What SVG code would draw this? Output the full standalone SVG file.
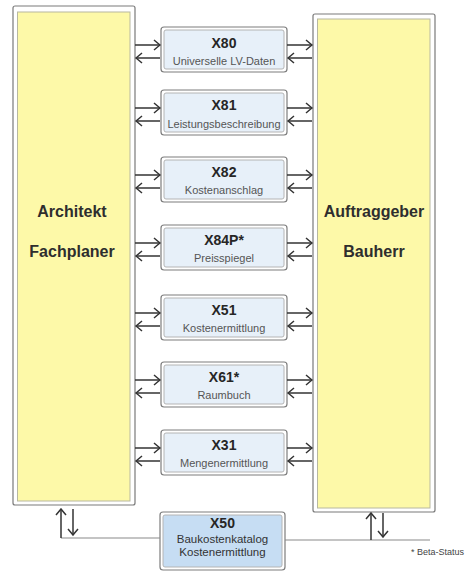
<svg xmlns="http://www.w3.org/2000/svg" width="466" height="573" viewBox="0 0 466 573">
<style>
.po{fill:#ffffff;stroke:#7a7a7a;stroke-width:1.2}
.pi{fill:#fdf9a8;stroke:#b8b8a0;stroke-width:1}
.pt{font-family:"Liberation Sans",Arial,sans-serif;font-weight:bold;font-size:16px;fill:#2e2e2e;text-anchor:middle}
.bo{fill:#ffffff;stroke:#7d7d7d;stroke-width:1.2}
.bi{fill:#e7f0f9;stroke:#b4b4b4;stroke-width:1}
.bi2{fill:#c6ddf3;stroke:#b4b4b4;stroke-width:1}
.bt{font-family:"Liberation Sans",Arial,sans-serif;font-weight:bold;font-size:14px;fill:#262626;text-anchor:middle}
.bs{font-family:"Liberation Sans",Arial,sans-serif;font-size:11px;fill:#555555;text-anchor:middle}
.bs2{font-family:"Liberation Sans",Arial,sans-serif;font-size:11.5px;fill:#333333;text-anchor:middle}
.ar{stroke:#333333;stroke-width:1.5;fill:none;marker-end:url(#ah)}
.ln{stroke:#8a8a8a;stroke-width:1.2;fill:none}
.note{font-family:"Liberation Sans",Arial,sans-serif;font-size:9px;fill:#444444;text-anchor:end}
</style>
<defs>
<marker id="ah" markerWidth="10" markerHeight="12" refX="8.5" refY="6" orient="auto" markerUnits="userSpaceOnUse">
<path d="M2.5,1 Q6,4 8.5,6 Q6,8 2.5,11" fill="none" stroke="#333333" stroke-width="1.5"/>
</marker>
</defs>

<g id="architekt">
<rect class="po" x="13" y="6" width="122" height="499" rx="2"/>
<rect class="pi" x="17.5" y="12" width="112.5" height="489"/>
<text class="pt" x="72" y="217">Architekt</text>
<text class="pt" x="72" y="257">Fachplaner</text>
</g>

<g id="auftraggeber">
<rect class="po" x="313" y="14" width="122" height="498" rx="2"/>
<rect class="pi" x="317.5" y="19" width="112.5" height="489"/>
<text class="pt" x="374" y="217">Auftraggeber</text>
<text class="pt" x="374" y="257">Bauherr</text>
</g>

<g id="x80">
<rect class="bo" x="161" y="27" width="126" height="45" rx="3"/>
<rect class="bi" x="164" y="30" width="120" height="39" rx="2"/>
<text class="bt" x="224" y="48">X80</text>
<text class="bs" x="224" y="65">Universelle LV-Daten</text>
</g>
<g id="x81">
<rect class="bo" x="161" y="90" width="126" height="45" rx="3"/>
<rect class="bi" x="164" y="93" width="120" height="39" rx="2"/>
<text class="bt" x="224" y="110">X81</text>
<text class="bs" x="224" y="128">Leistungsbeschreibung</text>
</g>
<g id="x82">
<rect class="bo" x="161" y="157" width="126" height="45" rx="3"/>
<rect class="bi" x="164" y="160" width="120" height="39" rx="2"/>
<text class="bt" x="224" y="177">X82</text>
<text class="bs" x="224" y="194">Kostenanschlag</text>
</g>
<g id="x84p">
<rect class="bo" x="161" y="225" width="126" height="45" rx="3"/>
<rect class="bi" x="164" y="228" width="120" height="39" rx="2"/>
<text class="bt" x="224" y="245">X84P*</text>
<text class="bs" x="224" y="262">Preisspiegel</text>
</g>
<g id="x51">
<rect class="bo" x="161" y="295" width="126" height="45" rx="3"/>
<rect class="bi" x="164" y="298" width="120" height="39" rx="2"/>
<text class="bt" x="224" y="315">X51</text>
<text class="bs" x="224" y="332">Kostenermittlung</text>
</g>
<g id="x61">
<rect class="bo" x="161" y="362" width="126" height="45" rx="3"/>
<rect class="bi" x="164" y="365" width="120" height="39" rx="2"/>
<text class="bt" x="224" y="382">X61*</text>
<text class="bs" x="224" y="399">Raumbuch</text>
</g>
<g id="x31">
<rect class="bo" x="161" y="430" width="126" height="45" rx="3"/>
<rect class="bi" x="164" y="433" width="120" height="39" rx="2"/>
<text class="bt" x="224" y="450">X31</text>
<text class="bs" x="224" y="467">Mengenermittlung</text>
</g>
<g id="x50">
<rect class="bo" x="160" y="512" width="125" height="58" rx="3"/>
<rect class="bi2" x="163" y="515" width="119" height="52" rx="2"/>
<text class="bt" x="222.5" y="528">X50</text>
<text class="bs2" x="222.5" y="543">Baukostenkatalog</text>
<text class="bs2" x="222.5" y="556">Kostenermittlung</text>
</g>

<g id="connectors">
<line class="ar" x1="135" y1="45" x2="160" y2="45"/>
<line class="ar" x1="160" y1="58" x2="136" y2="58"/>
<line class="ar" x1="287" y1="45" x2="312" y2="45"/>
<line class="ar" x1="312" y1="58" x2="288" y2="58"/>

<line class="ar" x1="135" y1="108" x2="160" y2="108"/>
<line class="ar" x1="160" y1="121" x2="136" y2="121"/>
<line class="ar" x1="287" y1="108" x2="312" y2="108"/>
<line class="ar" x1="312" y1="121" x2="288" y2="121"/>

<line class="ar" x1="135" y1="175" x2="160" y2="175"/>
<line class="ar" x1="160" y1="188" x2="136" y2="188"/>
<line class="ar" x1="287" y1="175" x2="312" y2="175"/>
<line class="ar" x1="312" y1="188" x2="288" y2="188"/>

<line class="ar" x1="135" y1="243" x2="160" y2="243"/>
<line class="ar" x1="160" y1="256" x2="136" y2="256"/>
<line class="ar" x1="287" y1="243" x2="312" y2="243"/>
<line class="ar" x1="312" y1="256" x2="288" y2="256"/>

<line class="ar" x1="135" y1="313" x2="160" y2="313"/>
<line class="ar" x1="160" y1="326" x2="136" y2="326"/>
<line class="ar" x1="287" y1="313" x2="312" y2="313"/>
<line class="ar" x1="312" y1="326" x2="288" y2="326"/>

<line class="ar" x1="135" y1="380" x2="160" y2="380"/>
<line class="ar" x1="160" y1="393" x2="136" y2="393"/>
<line class="ar" x1="287" y1="380" x2="312" y2="380"/>
<line class="ar" x1="312" y1="393" x2="288" y2="393"/>

<line class="ar" x1="135" y1="448" x2="160" y2="448"/>
<line class="ar" x1="160" y1="461" x2="136" y2="461"/>
<line class="ar" x1="287" y1="448" x2="312" y2="448"/>
<line class="ar" x1="312" y1="461" x2="288" y2="461"/>

<polyline class="ln" points="160,538 61,538"/>
<line class="ar" x1="61" y1="538" x2="61" y2="509"/>
<line class="ar" x1="73" y1="509" x2="73" y2="535"/>
<polyline class="ln" points="285,540 430,540"/>
<line class="ar" x1="371" y1="540" x2="371" y2="513"/>
<line class="ar" x1="383" y1="513" x2="383" y2="537"/>
</g>

<text class="note" x="464" y="555">* Beta-Status</text>
</svg>
